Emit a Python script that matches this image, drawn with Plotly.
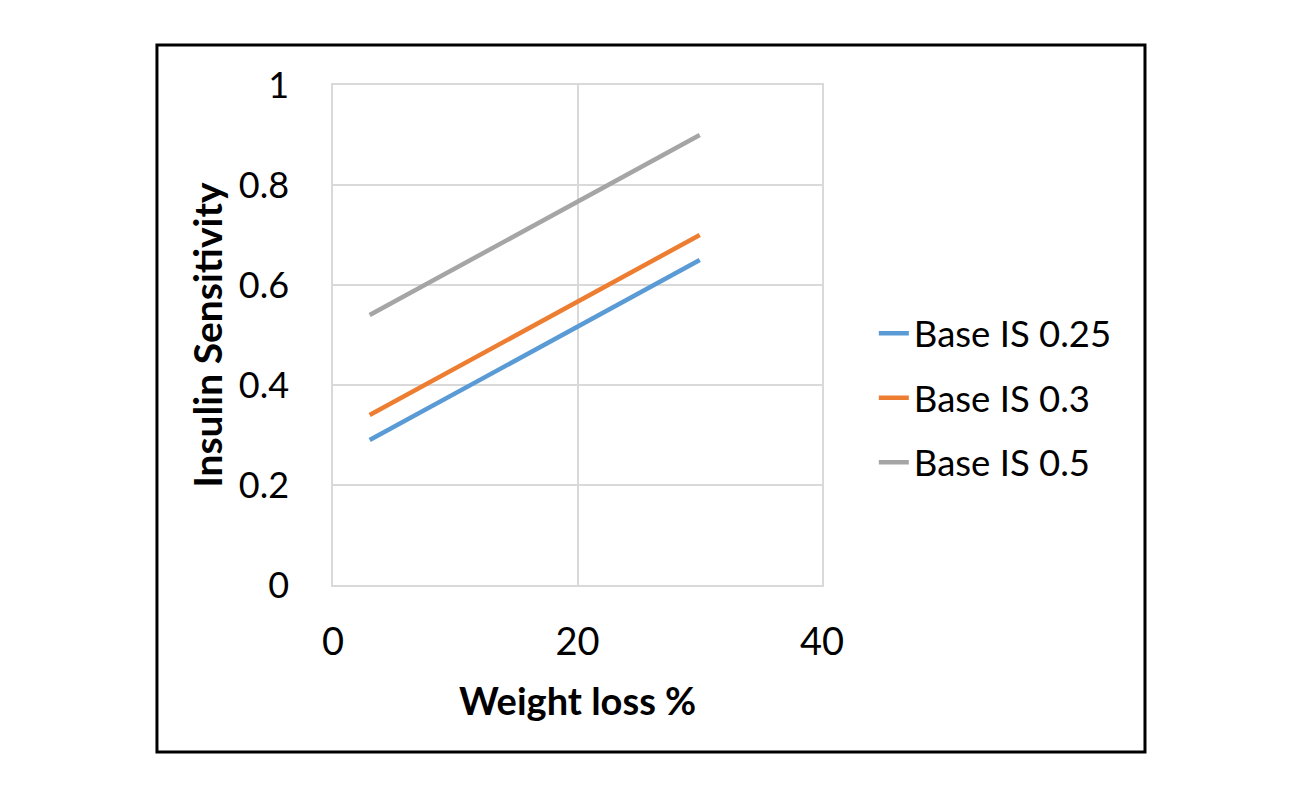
import plotly.graph_objects as go

weight_loss = [3, 30]
series_names = ["Base IS 0.25", "Base IS 0.3", "Base IS 0.5"]
is_025 = [0.29, 0.65]
is_03 = [0.34, 0.70]
is_05 = [0.54, 0.90]
colors = ["#5B9BD5", "#ED7D31", "#A5A5A5"]
x_ticks = [0, 20, 40]
y_ticks = [0, 0.2, 0.4, 0.6, 0.8, 1]
y_tick_labels = ["0", "0.2", "0.4", "0.6", "0.8", "1"]

FONT = "Lato"
fig = go.Figure()
for name, vals, c in zip(series_names, [is_025, is_03, is_05], colors):
    fig.add_trace(go.Scatter(x=weight_loss, y=vals, mode="lines", name=name,
                             legendgroup=name,
                             line=dict(color=c, width=4.5)))

grid = "#D9D9D9"
fig.update_layout(
    width=1292, height=800,
    margin=dict(l=325, r=478, t=77, b=223),
    paper_bgcolor="white", plot_bgcolor="white",
    font=dict(family=FONT, size=38, color="black"),
    showlegend=True,
    legend=dict(x=1.106, y=0.374, xanchor="left", yanchor="middle",
                font=dict(family=FONT, size=36.5, color="black"),
                tracegroupgap=14, bgcolor="rgba(0,0,0,0)"),
    xaxis=dict(range=[0, 40], tickvals=x_ticks, showgrid=True, gridcolor=grid,
               gridwidth=1.5, showline=True, linecolor=grid, linewidth=1.5,
               mirror=True, zeroline=False, ticks="outside", ticklen=23,
               tickcolor="rgba(0,0,0,0)", tickfont=dict(size=38)),
    yaxis=dict(range=[0, 1], tickvals=y_ticks, ticktext=y_tick_labels,
               showgrid=True, gridcolor=grid, gridwidth=1.5, showline=True,
               linecolor=grid, linewidth=1.5, mirror=True, zeroline=False,
               ticks="outside", ticklen=35, tickcolor="rgba(0,0,0,0)",
               tickfont=dict(size=36)),
    annotations=[
        dict(text="<b>Weight loss %</b>", xref="paper", yref="paper",
             x=0.5, y=-0.23, xanchor="center", yanchor="middle",
             showarrow=False, font=dict(family=FONT, size=38)),
        dict(text="<b>Insulin Sensitivity</b>", xref="paper", yref="paper",
             x=-0.258, y=0.5, xanchor="center", yanchor="middle",
             textangle=-90, showarrow=False, font=dict(family=FONT, size=39)),
    ],
    shapes=[dict(type="rect", xref="paper", yref="paper",
                 x0=-0.36, x1=1.6605, y0=-0.334, y1=1.08,
                 line=dict(color="black", width=3), layer="below")],
)

fig.write_html("out.html")
